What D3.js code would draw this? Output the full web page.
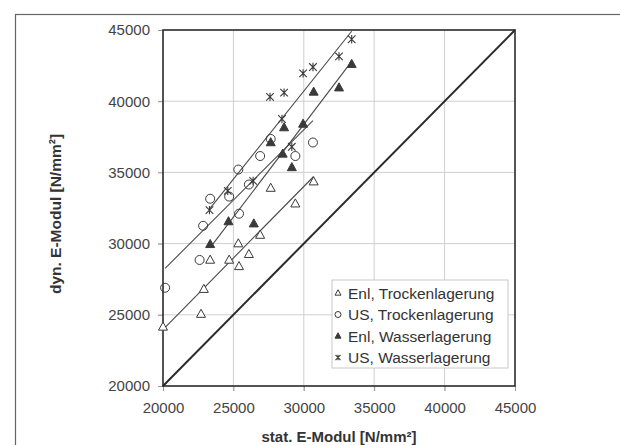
<!DOCTYPE html>
<html>
<head>
<meta charset="utf-8">
<script src="https://cdn.jsdelivr.net/npm/d3@7"></script>
<style>
    body { margin: 0; background: #fff; }
    text { font-family: "Liberation Sans", Arial, sans-serif; }
</style>
</head>
<body>
<div id="chart"></div>
<script>
// series names (legend order)
const seriesNames = ["Enl, Trockenlagerung", "US, Trockenlagerung", "Enl, Wasserlagerung", "US, Wasserlagerung"]

// stat. E-Modul (x) / dyn. E-Modul (y)
const enlTrockenX = [20000, 22700, 22900, 23350, 24700, 25400, 25350, 26100, 26900, 27650, 29400, 30700]
const enlTrockenY = [24150, 25050, 26800, 28850, 28850, 28400, 30000, 29250, 30600, 33900, 32800, 34350]
const usTrockenX = [20150, 22600, 22850, 23350, 24700, 25400, 25350, 26100, 26900, 27650, 29400, 30650]
const usTrockenY = [26900, 28850, 31250, 33150, 33300, 32100, 35200, 34150, 36150, 37350, 36150, 37100]
const enlWasserX = [23350, 24650, 26450, 27650, 28500, 29150, 28600, 29950, 30700, 32500, 33400]
const enlWasserY = [29950, 31550, 31400, 37100, 36300, 35350, 38150, 38400, 40650, 40950, 42600]
const usWasserX = [23300, 24600, 26400, 27600, 28600, 28450, 29150, 29950, 30650, 32500, 33400]
const usWasserY = [32350, 33700, 34400, 40300, 40600, 38750, 36800, 41950, 42400, 43150, 44350]

const tickValues = [20000, 25000, 30000, 35000, 40000, 45000]

const width = 620
const height = 445
const margin = { top: 30, right: 105, bottom: 59, left: 163 }
const ink = "#3a3a3a"

const series = [
    { name: seriesNames[0], xs: enlTrockenX, ys: enlTrockenY, marker: "triOpen" },
    { name: seriesNames[1], xs: usTrockenX, ys: usTrockenY, marker: "circle" },
    { name: seriesNames[2], xs: enlWasserX, ys: enlWasserY, marker: "triFilled" },
    { name: seriesNames[3], xs: usWasserX, ys: usWasserY, marker: "star" },
]

const svg = d3.select("#chart")
    .append("svg")
    .attr("width", width)
    .attr("height", height)

// outer frame of the figure (runs off the right / bottom edge)
svg.append("rect")
    .attr("x", 15.5).attr("y", 14.5)
    .attr("width", 700).attr("height", 600)
    .attr("fill", "none").attr("stroke", "#666").attr("stroke-width", 1.2)

const x = d3.scaleLinear().domain([20000, 45000]).range([margin.left, width - margin.right])
const y = d3.scaleLinear().domain([20000, 45000]).range([height - margin.bottom, margin.top])

// grid
svg.append("g")
    .selectAll("line.vgrid")
    .data(tickValues.slice(1, -1))
    .join("line")
    .attr("x1", d => x(d)).attr("x2", d => x(d))
    .attr("y1", y(45000)).attr("y2", y(20000) + 5)
    .attr("stroke", "#cfcfcf")
svg.append("g")
    .selectAll("line.hgrid")
    .data(tickValues.slice(1, -1))
    .join("line")
    .attr("x1", x(20000) - 5).attr("x2", x(45000))
    .attr("y1", d => y(d)).attr("y2", d => y(d))
    .attr("stroke", "#cfcfcf")

// axes
const xAxis = svg.append("g")
    .attr("transform", `translate(0,${y(20000)})`)
    .call(d3.axisBottom(x).tickValues(tickValues).tickSize(5).tickPadding(11).tickFormat(d3.format("d")))
const yAxis = svg.append("g")
    .attr("transform", `translate(${x(20000)},0)`)
    .call(d3.axisLeft(y).tickValues(tickValues).tickSize(5).tickPadding(8).tickFormat(d3.format("d")))

;[xAxis, yAxis].forEach(ax => {
    ax.select(".domain").remove()
    ax.selectAll(".tick line").attr("stroke", "#999")
    ax.selectAll(".tick text")
        .attr("fill", "#444")
        .style("font-size", "15px")
        .style("font-family", "'Liberation Sans', Arial, sans-serif")
})

// plot border
svg.append("rect")
    .attr("x", x(20000)).attr("y", y(45000))
    .attr("width", x(45000) - x(20000)).attr("height", y(20000) - y(45000))
    .attr("fill", "none").attr("stroke", "#2a2a2a").attr("stroke-width", 1.6)

// 1:1 line
svg.append("line")
    .attr("x1", x(20000)).attr("y1", y(20000))
    .attr("x2", x(45000)).attr("y2", y(45000))
    .attr("stroke", "#2a2a2a").attr("stroke-width", 2)

// linear trend lines (least squares, over each series' x range)
const fit = (xs, ys) => {
    const mx = d3.mean(xs), my = d3.mean(ys)
    const sxy = d3.sum(xs, (v, i) => (v - mx) * (ys[i] - my))
    const sxx = d3.sum(xs, v => (v - mx) ** 2)
    const b = sxy / sxx
    return v => my + b * (v - mx)
}

svg.append("g")
    .selectAll("line")
    .data(series)
    .join("line")
    .each(function (s) {
        const f = fit(s.xs, s.ys)
        const [x0, x1] = d3.extent(s.xs)
        d3.select(this)
            .attr("x1", x(x0)).attr("y1", y(f(x0)))
            .attr("x2", x(x1)).attr("y2", y(f(x1)))
    })
    .attr("stroke", "#4a4a4a").attr("stroke-width", 1.1)

// markers
const drawMarker = (g, type, s) => {
    if (type === "triOpen" || type === "triFilled") {
        const h = s * 0.9
        g.append("path")
            .attr("d", `M0,${-h * 0.6}L${s / 2},${h * 0.4}L${-s / 2},${h * 0.4}Z`)
            .attr("fill", type === "triFilled" ? ink : "#fff")
            .attr("stroke", ink).attr("stroke-width", 1)
    } else if (type === "circle") {
        g.append("circle").attr("r", s / 2)
            .attr("fill", "none").attr("stroke", ink).attr("stroke-width", 1)
    } else {
        // excel "star": x with a short vertical bar
        const r = s * 0.42
        g.append("path")
            .attr("d", `M${-r},${-r}L${r},${r}M${-r},${r}L${r},${-r}M0,${-r * 1.1}V${r * 1.1}`)
            .attr("fill", "none").attr("stroke", ink).attr("stroke-width", 1.1)
    }
}

series.forEach(s => {
    svg.append("g")
        .selectAll("g")
        .data(s.xs.map((v, i) => [v, s.ys[i]]))
        .join("g")
        .attr("transform", d => `translate(${x(d[0])},${y(d[1])})`)
        .each(function () { drawMarker(d3.select(this), s.marker, 9) })
})

// legend
const legend = svg.append("g").attr("transform", `translate(${x(20000) + 169},${y(20000) - 106})`)
legend.append("rect")
    .attr("width", 176).attr("height", 88)
    .attr("fill", "#fff").attr("stroke", "#c8c8c8")
const items = legend.selectAll("g")
    .data(series)
    .join("g")
    .attr("transform", (d, i) => `translate(6,${13 + i * 21.5})`)
items.each(function (s) { drawMarker(d3.select(this), s.marker, 6) })
items.append("text")
    .attr("x", 10)
    .attr("dy", "0.36em")
    .style("font-size", "15.5px")
    .attr("fill", "#333")
    .text(d => d.name)

// axis titles
svg.append("text")
    .attr("x", (x(20000) + x(45000)) / 2)
    .attr("y", 442)
    .attr("text-anchor", "middle")
    .style("font-size", "15px").style("font-weight", "bold")
    .attr("fill", "#333")
    .text("stat. E-Modul [N/mm²]")
svg.append("text")
    .attr("transform", `translate(61,${(y(20000) + y(45000)) / 2 + 6}) rotate(-90)`)
    .attr("text-anchor", "middle")
    .style("font-size", "15.5px").style("font-weight", "bold")
    .attr("fill", "#333")
    .text("dyn. E-Modul [N/mm²]")
</script>
</body>
</html>
